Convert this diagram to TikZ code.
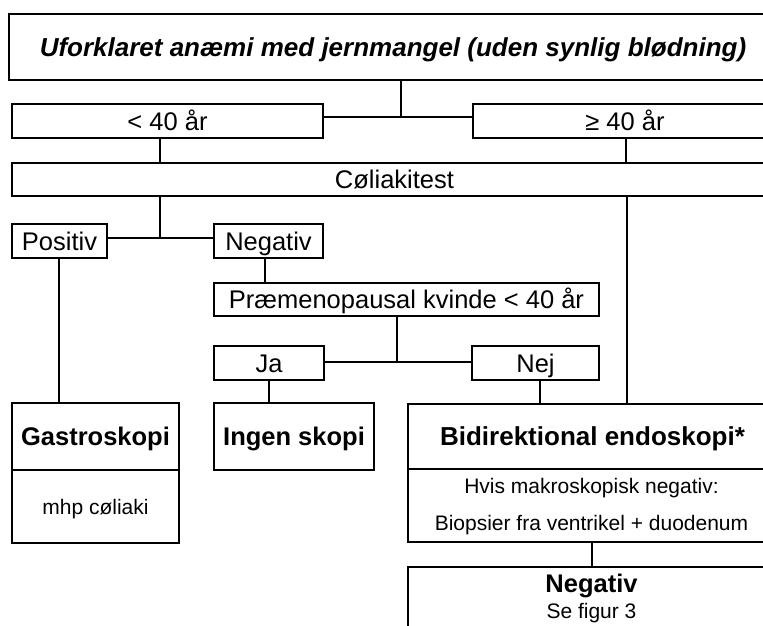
\documentclass[tikz,border=0pt]{standalone}
\usepackage{fontspec}
\setmainfont{Liberation Sans}
\tikzset{
  box/.style={draw, line width=2pt, inner sep=0pt, anchor=north west, align=center},
  conn/.style={line width=1.3pt},
  big/.style={font=\fontsize{25.5}{30}\selectfont, text height=18.5pt, text depth=0pt},
  bigb/.style={font=\fontsize{25.5}{30}\selectfont\bfseries, text height=18.5pt, text depth=0pt},
  small/.style={font=\fontsize{21}{25}\selectfont, text height=15.3pt, text depth=0pt},
  txt/.style={inner sep=0pt, anchor=base},
}
\begin{document}
\begin{tikzpicture}[x=1pt,y=-1pt]
\useasboundingbox (0,0) rectangle (763,626);
\clip (0,0) rectangle (763,626);
% boxes
\node[box, minimum width=768pt, minimum height=66pt, font=\fontsize{26}{30}\selectfont\bfseries\itshape, text height=18.8pt, text depth=0pt] (top) at (8,13) {Uforklaret anæmi med jernmangel (uden synlig blødning)};
\node[box, big, minimum width=311pt, minimum height=34pt] (lt40) at (11,103) {< 40 år};
\node[box, big, minimum width=304pt, minimum height=34pt] (ge40) at (472,103) {≥ 40 år};
\node[box, big, minimum width=765pt, minimum height=33pt] (coel) at (11,162) {Cøliakitest};
\node[box, big, minimum width=95pt, minimum height=34pt] (pos) at (11,223) {Positiv};
\node[box, big, minimum width=109pt, minimum height=34pt] (neg) at (213,223) {Negativ};
\node[box, big, minimum width=385pt, minimum height=33pt] (prae) at (213,282) {Præmenopausal kvinde < 40 år};
\node[box, big, minimum width=110pt, minimum height=34pt] (ja) at (213,345) {Ja};
\node[box, big, minimum width=127pt, minimum height=34pt] (nej) at (471,345) {Nej};
\node[box, bigb, minimum width=167pt, minimum height=67pt] (gas) at (11,402) {Gastroskopi};
\node[box, small, minimum width=167pt, minimum height=73pt] (gasb) at (11,469) {mhp cøliaki};
\node[box, bigb, minimum width=160pt, minimum height=67pt] (ingen) at (213,402) {Ingen skopi};
\node[box, bigb, font=\fontsize{26}{30}\selectfont\bfseries, minimum width=369pt, minimum height=65pt] (bid) at (407,403) {Bidirektional endoskopi*};
\node[box, minimum width=369pt, minimum height=73pt] (bidb) at (407,468) {};
\node[box, minimum width=369pt, minimum height=66pt] (negb) at (407,566) {};
% texts inside the lower boxes
\node[txt, font=\fontsize{21}{25}\selectfont] (bidt1) at (591.5,493) {Hvis makroskopisk negativ:};
\node[txt, font=\fontsize{21}{25}\selectfont] (bidt2) at (591.5,530) {Biopsier fra ventrikel + duodenum};
\node[txt, font=\fontsize{25.5}{30}\selectfont\bfseries] (negt1) at (591.5,592) {Negativ};
\node[txt, font=\fontsize{21}{25}\selectfont] (negt2) at (591.5,618) {Se figur 3};
% junction coordinates
\coordinate (j1) at (401,117);
\coordinate (j2) at (160,0);
\coordinate (j3) at (160,238);
\coordinate (j4) at (397,362);
\coordinate (x1) at (626,0);
\coordinate (x2) at (265,0);
\coordinate (x3) at (59,0);
\coordinate (x4) at (269,0);
\coordinate (x5) at (540,0);
\coordinate (x6) at (627,0);
\coordinate (x7) at (592,0);
% connectors
\draw[conn] (j1 |- top.south) -- (j1);
\draw[conn] (lt40.east |- j1) -- (ge40.west |- j1);
\draw[conn] (lt40.south -| j2) -- (coel.north -| j2);
\draw[conn] (ge40.south -| x1) -- (coel.north -| x1);
\draw[conn] (coel.south -| j3) -- (j3);
\draw[conn] (pos.east |- j3) -- (neg.west |- j3);
\draw[conn] (neg.south -| x2) -- (prae.north -| x2);
\draw[conn] (prae.south -| j4) -- (j4);
\draw[conn] (ja.east |- j4) -- (nej.west |- j4);
\draw[conn] (pos.south -| x3) -- (gas.north -| x3);
\draw[conn] (ja.south -| x4) -- (ingen.north -| x4);
\draw[conn] (nej.south -| x5) -- (bid.north -| x5);
\draw[conn] (coel.south -| x6) -- (bid.north -| x6);
\draw[conn] (bidb.south -| x7) -- (negb.north -| x7);
\end{tikzpicture}
\end{document}
